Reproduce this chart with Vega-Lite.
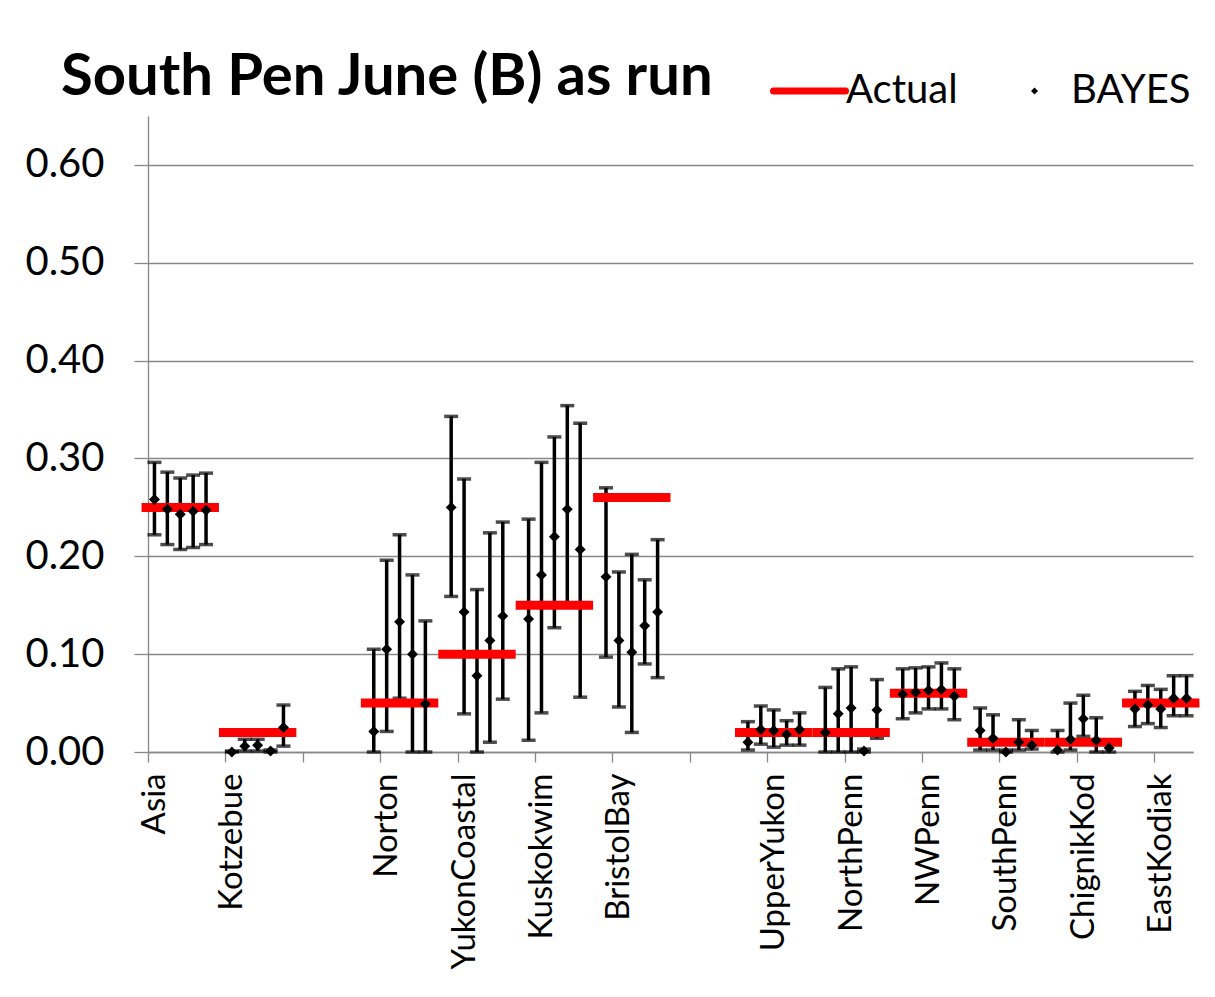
{
  "$schema": "https://vega.github.io/schema/vega-lite/v6.json",
  "autosize": {"type": "none"},
  "width": 1045,
  "height": 636,
  "padding": {"left": 148, "top": 116, "right": 22, "bottom": 245},
  "background": "#ffffff",
  "config": {
    "view": {"stroke": null},
    "font": "Lato"
  },
  "title": {
    "text": "South Pen June (B) as run",
    "font": "Lato",
    "fontSize": 58,
    "fontWeight": "bold",
    "color": "#000000",
    "anchor": "start",
    "frame": "group",
    "baseline": "alphabetic",
    "dx": -87,
    "dy": 103,
    "offset": 21
  },
  "datasets": {
    "bayes": [
      {"region": "Asia", "idx": 0, "est": 0.258, "lo": 0.222, "hi": 0.296},
      {"region": "Asia", "idx": 1, "est": 0.248, "lo": 0.212, "hi": 0.286},
      {"region": "Asia", "idx": 2, "est": 0.243, "lo": 0.207, "hi": 0.280},
      {"region": "Asia", "idx": 3, "est": 0.246, "lo": 0.209, "hi": 0.283},
      {"region": "Asia", "idx": 4, "est": 0.247, "lo": 0.212, "hi": 0.285},
      {"region": "Kotzebue", "idx": 6, "est": 0.000, "lo": 0.000, "hi": 0.001},
      {"region": "Kotzebue", "idx": 7, "est": 0.006, "lo": 0.001, "hi": 0.013},
      {"region": "Kotzebue", "idx": 8, "est": 0.007, "lo": 0.001, "hi": 0.013},
      {"region": "Kotzebue", "idx": 9, "est": 0.001, "lo": 0.000, "hi": 0.002},
      {"region": "Kotzebue", "idx": 10, "est": 0.025, "lo": 0.006, "hi": 0.048},
      {"region": "Norton", "idx": 17, "est": 0.021, "lo": 0.000, "hi": 0.105},
      {"region": "Norton", "idx": 18, "est": 0.105, "lo": 0.021, "hi": 0.196},
      {"region": "Norton", "idx": 19, "est": 0.133, "lo": 0.055, "hi": 0.222},
      {"region": "Norton", "idx": 20, "est": 0.100, "lo": 0.000, "hi": 0.181},
      {"region": "Norton", "idx": 21, "est": 0.049, "lo": 0.000, "hi": 0.134},
      {"region": "YukonCoastal", "idx": 23, "est": 0.250, "lo": 0.159, "hi": 0.343},
      {"region": "YukonCoastal", "idx": 24, "est": 0.143, "lo": 0.039, "hi": 0.279},
      {"region": "YukonCoastal", "idx": 25, "est": 0.078, "lo": 0.000, "hi": 0.166},
      {"region": "YukonCoastal", "idx": 26, "est": 0.114, "lo": 0.010, "hi": 0.224},
      {"region": "YukonCoastal", "idx": 27, "est": 0.139, "lo": 0.054, "hi": 0.235},
      {"region": "Kuskokwim", "idx": 29, "est": 0.136, "lo": 0.012, "hi": 0.238},
      {"region": "Kuskokwim", "idx": 30, "est": 0.181, "lo": 0.040, "hi": 0.296},
      {"region": "Kuskokwim", "idx": 31, "est": 0.220, "lo": 0.127, "hi": 0.322},
      {"region": "Kuskokwim", "idx": 32, "est": 0.248, "lo": 0.150, "hi": 0.354},
      {"region": "Kuskokwim", "idx": 33, "est": 0.207, "lo": 0.056, "hi": 0.336},
      {"region": "BristolBay", "idx": 35, "est": 0.179, "lo": 0.097, "hi": 0.270},
      {"region": "BristolBay", "idx": 36, "est": 0.114, "lo": 0.046, "hi": 0.184},
      {"region": "BristolBay", "idx": 37, "est": 0.102, "lo": 0.020, "hi": 0.202},
      {"region": "BristolBay", "idx": 38, "est": 0.129, "lo": 0.090, "hi": 0.176},
      {"region": "BristolBay", "idx": 39, "est": 0.143, "lo": 0.076, "hi": 0.217},
      {"region": "UpperYukon", "idx": 46, "est": 0.010, "lo": 0.002, "hi": 0.031},
      {"region": "UpperYukon", "idx": 47, "est": 0.023, "lo": 0.008, "hi": 0.047},
      {"region": "UpperYukon", "idx": 48, "est": 0.022, "lo": 0.005, "hi": 0.043},
      {"region": "UpperYukon", "idx": 49, "est": 0.018, "lo": 0.007, "hi": 0.032},
      {"region": "UpperYukon", "idx": 50, "est": 0.023, "lo": 0.007, "hi": 0.040},
      {"region": "NorthPenn", "idx": 52, "est": 0.020, "lo": 0.000, "hi": 0.066},
      {"region": "NorthPenn", "idx": 53, "est": 0.039, "lo": 0.000, "hi": 0.085},
      {"region": "NorthPenn", "idx": 54, "est": 0.045, "lo": 0.000, "hi": 0.087},
      {"region": "NorthPenn", "idx": 55, "est": 0.001, "lo": 0.000, "hi": 0.003},
      {"region": "NorthPenn", "idx": 56, "est": 0.043, "lo": 0.014, "hi": 0.074},
      {"region": "NWPenn", "idx": 58, "est": 0.059, "lo": 0.034, "hi": 0.085},
      {"region": "NWPenn", "idx": 59, "est": 0.061, "lo": 0.040, "hi": 0.086},
      {"region": "NWPenn", "idx": 60, "est": 0.063, "lo": 0.044, "hi": 0.087},
      {"region": "NWPenn", "idx": 61, "est": 0.064, "lo": 0.044, "hi": 0.091},
      {"region": "NWPenn", "idx": 62, "est": 0.057, "lo": 0.033, "hi": 0.085},
      {"region": "SouthPenn", "idx": 64, "est": 0.022, "lo": 0.002, "hi": 0.045},
      {"region": "SouthPenn", "idx": 65, "est": 0.014, "lo": 0.002, "hi": 0.038},
      {"region": "SouthPenn", "idx": 66, "est": 0.000, "lo": 0.000, "hi": 0.002},
      {"region": "SouthPenn", "idx": 67, "est": 0.010, "lo": 0.002, "hi": 0.033},
      {"region": "SouthPenn", "idx": 68, "est": 0.007, "lo": 0.003, "hi": 0.022},
      {"region": "ChignikKod", "idx": 70, "est": 0.002, "lo": 0.000, "hi": 0.022},
      {"region": "ChignikKod", "idx": 71, "est": 0.013, "lo": 0.002, "hi": 0.050},
      {"region": "ChignikKod", "idx": 72, "est": 0.034, "lo": 0.016, "hi": 0.058},
      {"region": "ChignikKod", "idx": 73, "est": 0.012, "lo": 0.000, "hi": 0.035},
      {"region": "ChignikKod", "idx": 74, "est": 0.004, "lo": 0.000, "hi": 0.008},
      {"region": "EastKodiak", "idx": 76, "est": 0.044, "lo": 0.026, "hi": 0.062},
      {"region": "EastKodiak", "idx": 77, "est": 0.048, "lo": 0.029, "hi": 0.068},
      {"region": "EastKodiak", "idx": 78, "est": 0.044, "lo": 0.025, "hi": 0.064},
      {"region": "EastKodiak", "idx": 79, "est": 0.055, "lo": 0.037, "hi": 0.078},
      {"region": "EastKodiak", "idx": 80, "est": 0.055, "lo": 0.037, "hi": 0.078}
    ],
    "actual": [
      {"region": "Asia", "from": -1, "to": 5, "actual": 0.25},
      {"region": "Kotzebue", "from": 5, "to": 11, "actual": 0.02},
      {"region": "Norton", "from": 16, "to": 22, "actual": 0.05},
      {"region": "YukonCoastal", "from": 22, "to": 28, "actual": 0.10},
      {"region": "Kuskokwim", "from": 28, "to": 34, "actual": 0.15},
      {"region": "BristolBay", "from": 34, "to": 40, "actual": 0.26},
      {"region": "UpperYukon", "from": 45, "to": 51, "actual": 0.02},
      {"region": "NorthPenn", "from": 51, "to": 57, "actual": 0.02},
      {"region": "NWPenn", "from": 57, "to": 63, "actual": 0.06},
      {"region": "SouthPenn", "from": 63, "to": 69, "actual": 0.01},
      {"region": "ChignikKod", "from": 69, "to": 75, "actual": 0.01},
      {"region": "EastKodiak", "from": 75, "to": 81, "actual": 0.05}
    ]
  },
  "layer": [
    {
      "data": {"name": "bayes"},
      "mark": {"type": "rule", "color": "#000000", "strokeWidth": 3.5},
      "encoding": {
        "x": {
          "field": "idx", "type": "quantitative",
          "scale": {"domain": [-0.5, 80.5], "nice": false, "zero": false},
          "axis": {
            "title": null,
            "values": [-0.5, 5.5, 11.5, 17.5, 23.5, 29.5, 35.5, 41.5, 47.5, 53.5, 59.5, 65.5, 71.5, 77.5],
            "labelExpr": "['Asia','Kotzebue','','Norton','YukonCoastal','Kuskokwim','BristolBay','','UpperYukon','NorthPenn','NWPenn','SouthPenn','ChignikKod','EastKodiak'][round((datum.value + 0.5) / 6)]",
            "labelAngle": -90,
            "labelOffset": 6.45,
            "labelFont": "Lato",
            "labelFontSize": 33,
            "labelColor": "#000000",
            "labelPadding": 11,
            "labelLimit": 0,
            "labelOverlap": false,
            "labelFlush": false,
            "tickSize": 10,
            "tickColor": "#888888",
            "tickWidth": 1.3,
            "domainColor": "#888888",
            "domainWidth": 1.3,
            "grid": false
          }
        },
        "y": {
          "field": "lo", "type": "quantitative",
          "scale": {"domain": [0, 0.65], "nice": false, "zero": true},
          "axis": {
            "title": null,
            "values": [0, 0.1, 0.2, 0.3, 0.4, 0.5, 0.6],
            "format": ".2f",
            "labelFont": "Lato",
            "labelFontSize": 40,
            "labelColor": "#000000",
            "labelPadding": 30,
            "tickSize": 14,
            "tickColor": "#888888",
            "tickWidth": 1.3,
            "domainColor": "#888888",
            "domainWidth": 1.3,
            "grid": true,
            "gridColor": "#888888",
            "gridWidth": 1.3
          }
        },
        "y2": {"field": "hi"}
      }
    },
    {
      "data": {"name": "bayes"},
      "mark": {"type": "tick", "orient": "horizontal", "color": "#000000", "size": 14, "thickness": 3.5},
      "encoding": {
        "x": {"field": "idx", "type": "quantitative"},
        "y": {"field": "lo", "type": "quantitative"}
      }
    },
    {
      "data": {"name": "bayes"},
      "mark": {"type": "tick", "orient": "horizontal", "color": "#000000", "size": 14, "thickness": 3.5},
      "encoding": {
        "x": {"field": "idx", "type": "quantitative"},
        "y": {"field": "hi", "type": "quantitative"}
      }
    },
    {
      "data": {"name": "actual"},
      "transform": [{"calculate": "'Actual'", "as": "series"}],
      "mark": {"type": "rule", "strokeWidth": 9, "strokeCap": "butt"},
      "encoding": {
        "x": {"field": "from", "type": "quantitative"},
        "x2": {"field": "to"},
        "y": {"field": "actual", "type": "quantitative"},
        "color": {
          "field": "series", "type": "nominal",
          "scale": {"domain": ["Actual", "BAYES"], "range": ["#ff0000", "#000000"]},
          "legend": {
            "title": null,
            "orient": "none",
            "legendX": 641.5,
            "legendY": -45,
            "direction": "horizontal",
            "padding": 0,
            "labelFont": "Lato",
            "labelFontSize": 40,
            "labelColor": "#000000",
            "labelOffset": 16.5,
            "columnPadding": 56,
            "symbolSize": 5184,
            "encode": {
              "symbols": {
                "update": {
                  "shape": {"signal": "datum.value === 'Actual' ? 'stroke' : 'diamond'"},
                  "size": {"signal": "datum.value === 'Actual' ? 5184 : 49"},
                  "stroke": {"signal": "datum.value === 'Actual' ? '#ff0000' : 'transparent'"},
                  "strokeWidth": {"signal": "datum.value === 'Actual' ? 7 : 0"},
                  "fill": {"signal": "datum.value === 'Actual' ? 'transparent' : '#000000'"},
                  "strokeCap": {"value": "round"},
                  "opacity": {"value": 1}
                }
              }
            }
          }
        }
      }
    },
    {
      "data": {"name": "bayes"},
      "transform": [{"calculate": "'BAYES'", "as": "series"}],
      "mark": {"type": "point", "shape": "diamond", "filled": true, "size": 120, "opacity": 1},
      "encoding": {
        "x": {"field": "idx", "type": "quantitative"},
        "y": {"field": "est", "type": "quantitative"},
        "color": {"field": "series", "type": "nominal"}
      }
    }
  ]
}
